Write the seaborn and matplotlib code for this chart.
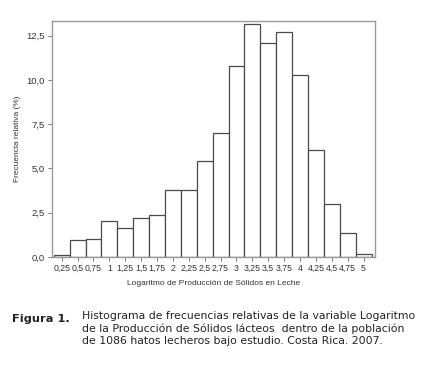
import numpy as np
import pandas as pd
import seaborn as sns
import matplotlib
matplotlib.use("Agg")
import matplotlib.pyplot as plt

centers = [0.25, 0.5, 0.75, 1.0, 1.25, 1.5, 1.75, 2.0, 2.25, 2.5, 2.75,
           3.0, 3.25, 3.5, 3.75, 4.0, 4.25, 4.5, 4.75, 5.0]
freq = [0.10, 0.94, 1.02, 2.01, 1.66, 2.22, 2.39, 3.77, 3.77, 5.44, 6.98,
        10.79, 13.18, 12.07, 12.69, 10.28, 6.02, 3.01, 1.37, 0.19]
xtick_labels = ["0,25", "0,5", "0,75", "1", "1,25", "1,5", "1,75", "2", "2,25",
                "2,5", "2,75", "3", "3,25", "3,5", "3,75", "4", "4,25", "4,5",
                "4,75", "5"]
yticks = [0.0, 2.5, 5.0, 7.5, 10.0, 12.5]
ytick_labels = ["0,0", "2,5", "5,0", "7,5", "10,0", "12,5"]

df = pd.DataFrame({"x": centers, "w": freq})

sns.set_style("white")
plt.rcParams["font.family"] = ["Liberation Sans", "DejaVu Sans"]

fig = plt.figure(figsize=(4.32, 3.85), dpi=100)
ax = fig.add_axes([52/432, 1 - 257/385, (375 - 52)/432, (257 - 21)/385])

sns.histplot(data=df, x="x", weights="w", binwidth=0.25,
             binrange=(0.125, 5.125), stat="count",
             color="white", edgecolor="#4a4a4a", linewidth=0.9, alpha=1,
             ax=ax)

ax.set_xlim(0.097, 5.18)
ax.set_ylim(0, 13.33)
ax.set_xticks(centers)
ax.set_xticklabels(xtick_labels, fontsize=6.3, color="#333333")
ax.set_yticks(yticks)
ax.set_yticklabels(ytick_labels, fontsize=6.8, color="#333333")
ax.tick_params(axis="both", direction="out", length=3, width=0.7,
               color="#777777", pad=2, bottom=True, left=True)
for s in ax.spines.values():
    s.set_color("#999999")
    s.set_linewidth(1.0)
ax.set_xlabel("Logaritmo de Producción de Sólidos en Leche", fontsize=6.0,
              color="#333333", labelpad=5)
ax.set_ylabel("Frecuencia relativa (%)", fontsize=6.0, color="#333333",
              labelpad=4)

fig.text(12/432, 1 - 322/385, "Figura 1.", fontsize=8.2, fontweight="bold",
         family="DejaVu Sans", color="#222222", va="baseline")
caption = ("Histograma de frecuencias relativas de la variable Logaritmo\n"
           "de la Producción de Sólidos lácteos  dentro de la población\n"
           "de 1086 hatos lecheros bajo estudio. Costa Rica. 2007.")
fig.text(82/432, 1 - 311/385, caption, fontsize=7.8, family="DejaVu Sans",
         color="#222222", va="top", linespacing=1.25)

fig.savefig("out.png", dpi=100)
